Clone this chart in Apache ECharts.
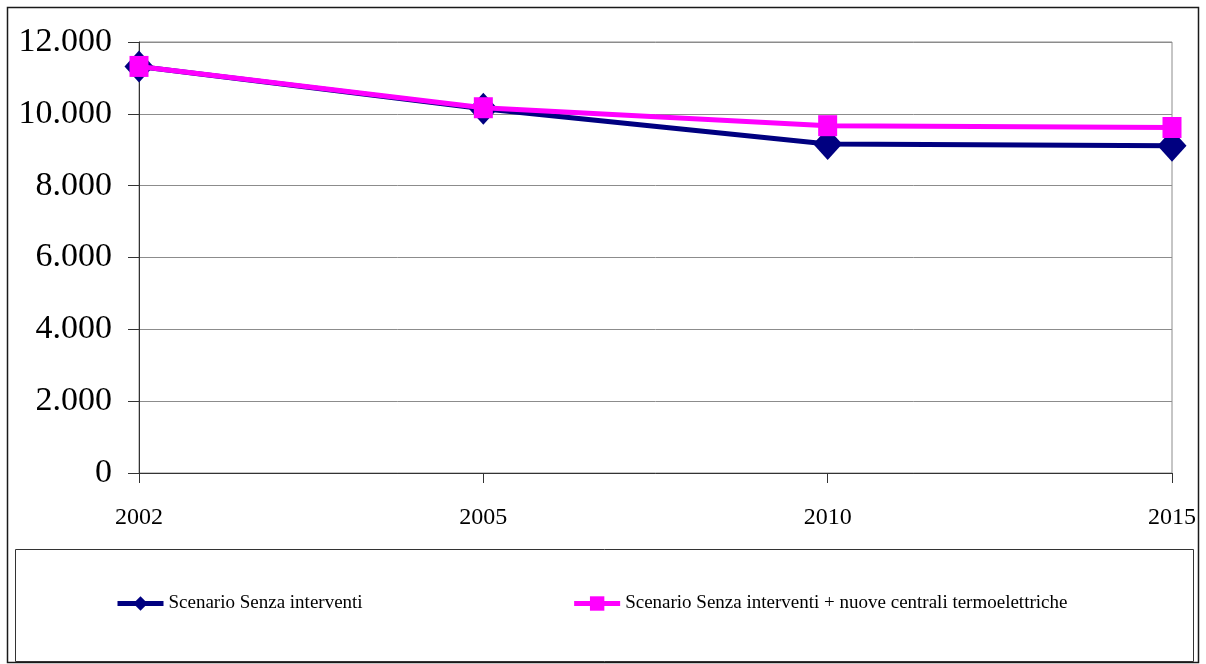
<!DOCTYPE html>
<html>
<head>
<meta charset="utf-8">
<script src="https://cdn.jsdelivr.net/npm/echarts@6/dist/echarts.min.js"></script>
<style>
html,body{margin:0;padding:0;background:#fff;}
#chart{width:1206px;height:664px;}
</style>
</head>
<body>
<div id="chart"></div>
<script>
var categories = ['2002', '2005', '2010', '2015'];
var seriesNames = ['Scenario Senza interventi', 'Scenario Senza interventi + nuove centrali termoelettriche'];
var senzaInterventi = [11320, 10140, 9160, 9110];
var nuoveCentrali = [11320, 10170, 9670, 9620];
var yTicks = [0, 2000, 4000, 6000, 8000, 10000, 12000];

function fmt(v) {
  if (v === 0) return '0';
  var s = String(v);
  return s.replace(/\B(?=(\d{3})+(?!\d))/g, '.');
}

var chart = echarts.init(document.getElementById('chart'), null, {renderer: 'canvas'});
var font = '"Liberation Serif", "Times New Roman", serif';
chart.setOption({
  animation: false,
  backgroundColor: '#ffffff',
  textStyle: {fontFamily: font},
  grid: {left: 139, right: 34, top: 42, bottom: 191, show: true, borderColor: '#8c8c8c', borderWidth: 1, backgroundColor: 'transparent'},
  graphic: [
    {type: 'rect', shape: {x: 7.5, y: 7.5, width: 1191, height: 655}, style: {fill: 'none', stroke: '#1a1a1a', lineWidth: 1.5}, z: -1},
    {type: 'rect', shape: {x: 15.5, y: 549.5, width: 1178, height: 112}, style: {fill: 'none', stroke: '#333333', lineWidth: 1}, z: -1}
  ],
  legend: {
    left: 115,
    top: 594,
    padding: 0,
    itemGap: 209,
    itemWidth: 46,
    itemHeight: 18,
    lineStyle: {width: 5},
    textStyle: {fontFamily: font, fontSize: 19, color: '#000'},
    data: seriesNames
  },
  xAxis: {
    type: 'category',
    data: categories,
    boundaryGap: false,
    axisLine: {lineStyle: {color: '#333333', width: 1}},
    axisTick: {show: true, length: 10, lineStyle: {color: '#333333'}},
    axisLabel: {fontFamily: font, fontSize: 24, color: '#000', margin: 33},
    splitLine: {show: false}
  },
  yAxis: {
    type: 'value',
    min: 0,
    max: 12000,
    interval: 2000,
    axisLine: {show: true, lineStyle: {color: '#333333', width: 1}},
    axisTick: {show: true, length: 11, lineStyle: {color: '#333333'}},
    axisLabel: {fontFamily: font, fontSize: 34, color: '#000', margin: 27, formatter: function (v) { return fmt(v); }},
    splitLine: {show: true, lineStyle: {color: '#8c8c8c', width: 1}}
  },
  series: [
    {
      name: seriesNames[0],
      type: 'line',
      data: senzaInterventi,
      color: '#000080',
      symbol: 'diamond',
      symbolSize: [29, 32],
      showAllSymbol: true,
      lineStyle: {width: 5, color: '#000080'},
      itemStyle: {color: '#000080'},
      z: 2
    },
    {
      name: seriesNames[1],
      type: 'line',
      data: nuoveCentrali,
      color: '#ff00ff',
      symbol: 'rect',
      symbolSize: [19, 21],
      showAllSymbol: true,
      lineStyle: {width: 5, color: '#ff00ff'},
      itemStyle: {color: '#ff00ff'},
      z: 3
    }
  ]
});
</script>
</body>
</html>
